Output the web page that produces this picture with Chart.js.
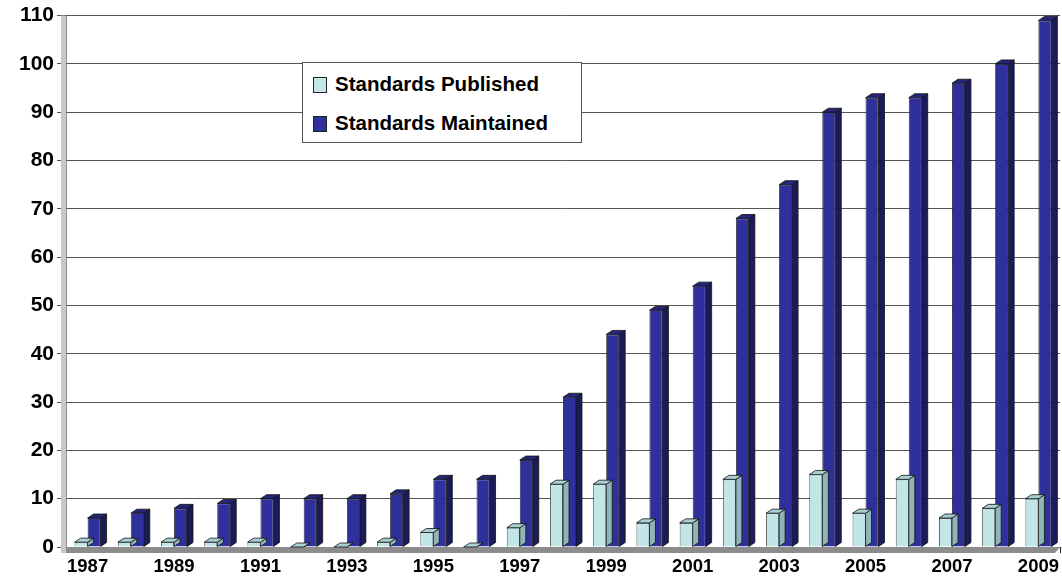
<!DOCTYPE html>
<html>
<head>
<meta charset="utf-8">
<script src="https://cdn.jsdelivr.net/npm/chart.js@4"></script>
<style>
    body { margin: 0; background: #fff; }
    #wrap { position: relative; width: 1062px; height: 583px; }
    #legend {
        position: absolute; left: 302px; top: 62px; width: 280px; height: 81px;
        border: 1px solid #555; background: #fff; box-sizing: border-box;
        font-family: "Liberation Sans", Arial, sans-serif; font-weight: bold; font-size: 20.5px;
        padding: 9px 0 0 10px;
    }
    .item { height: 39px; display: flex; align-items: flex-start; }
    .box { width: 12px; height: 14px; border: 1px solid #222; margin: 5px 8px 0 0; }
</style>
</head>
<body>
<div id="wrap">
    <canvas id="chart"></canvas>
    <div id="legend"></div>
</div>
<script>
const years = ['1987', '1988', '1989', '1990', '1991', '1992', '1993', '1994', '1995', '1996', '1997', '1998',
    '1999', '2000', '2001', '2002', '2003', '2004', '2005', '2006', '2007', '2008', '2009'];
const published = [1, 1, 1, 1, 1, 0, 0, 1, 3, 0, 4, 13, 13, 5, 5, 14, 7, 15, 7, 14, 6, 8, 10];
const maintained = [6, 7, 8, 9, 10, 10, 10, 11, 14, 14, 18, 31, 44, 49, 54, 68, 75, 90, 93, 93, 96, 100, 109];
const seriesNames = ['Standards Published', 'Standards Maintained'];
const yTicks = [0, 10, 20, 30, 40, 50, 60, 70, 80, 90, 100, 110];

const colors = ['#c2e6e8', '#30309c'];
const sideColors = ['#8fb5b8', '#1b1b5a'];
const topColors = ['#a9d0d3', '#25257a'];

// petit effet 3D sur les barres
const depthPlugin = {
    id: 'depth',
    beforeDatasetsDraw(chart) {
        const { ctx, chartArea } = chart;
        ctx.save();
        ctx.fillStyle = '#8c8c8c';
        ctx.beginPath();
        ctx.moveTo(chartArea.left, chartArea.bottom);
        ctx.lineTo(chartArea.right, chartArea.bottom);
        ctx.lineTo(chartArea.right - 5, chartArea.bottom + 6);
        ctx.lineTo(chartArea.left - 5, chartArea.bottom + 6);
        ctx.closePath();
        ctx.fill();
        ctx.fillStyle = '#c8c8c8';
        ctx.fillRect(chartArea.left - 5, chartArea.top, 5, chartArea.bottom - chartArea.top + 6);
        ctx.restore();
    },
    afterDatasetsDraw(chart) {
        const { ctx } = chart;
        const d = 6;
        const r = 4;
        ctx.save();
        ctx.lineWidth = 0.8;
        ctx.strokeStyle = '#111';
        chart.data.datasets.forEach((ds, i) => {
            chart.getDatasetMeta(i).data.forEach((bar) => {
                const half = bar.width / 2;
                const right = bar.x + half;
                const left = bar.x - half;
                ctx.fillStyle = sideColors[i];
                ctx.beginPath();
                ctx.moveTo(right, bar.y);
                ctx.lineTo(right + d, bar.y - r);
                ctx.lineTo(right + d, bar.base - r);
                ctx.lineTo(right, bar.base);
                ctx.closePath();
                ctx.fill();
                ctx.stroke();
                ctx.fillStyle = topColors[i];
                ctx.beginPath();
                ctx.moveTo(left, bar.y);
                ctx.lineTo(left + d, bar.y - r);
                ctx.lineTo(right + d, bar.y - r);
                ctx.lineTo(right, bar.y);
                ctx.closePath();
                ctx.fill();
                ctx.stroke();
            });
        });
        ctx.restore();
    },
};

const legend = document.getElementById('legend');
seriesNames.forEach((name, i) => {
    legend.insertAdjacentHTML('beforeend',
        `<div class="item"><span class="box" style="background:${colors[i]}"></span>${name}</div>`);
});

const font = { family: '"Liberation Sans", Arial, sans-serif', weight: 'bold' };

new Chart(document.getElementById('chart'), {
    type: 'bar',
    data: {
        labels: years,
        datasets: [
            {
                label: seriesNames[0],
                data: published,
                backgroundColor: colors[0],
                borderColor: '#222',
                borderWidth: 0.8,
                barPercentage: 1,
                categoryPercentage: 0.6,
            },
            {
                label: seriesNames[1],
                data: maintained,
                backgroundColor: colors[1],
                borderColor: '#111',
                borderWidth: 0.8,
                barPercentage: 1,
                categoryPercentage: 0.6,
            },
        ],
    },
    options: {
        responsive: true,
        maintainAspectRatio: false,
        animation: false,
        layout: { padding: { top: 12, right: 0, left: 0, bottom: 0 } },
        plugins: { legend: { display: false }, tooltip: { enabled: false } },
        scales: {
            x: {
                grid: { display: true, drawOnChartArea: false, offset: true, tickLength: 6, color: '#222' },
                border: { display: false },
                ticks: {
                    autoSkip: false,
                    maxRotation: 0,
                    color: '#000',
                    padding: 3,
                    font: { ...font, size: 18.5 },
                    callback(value, index) {
                        return index % 2 === 0 ? years[index] : '';
                    },
                },
                afterFit(scale) {
                    scale.height = 36;
                },
            },
            y: {
                min: 0,
                max: 110,
                afterBuildTicks(scale) {
                    scale.ticks = yTicks.map((v) => ({ value: v }));
                },
                grid: { color: '#555', lineWidth: 1, tickLength: 9 },
                border: { color: '#222', width: 1.5 },
                ticks: { color: '#000', padding: 3, font: { ...font, size: 21 } },
                afterFit(scale) {
                    scale.width = 66;
                },
            },
        },
    },
    plugins: [depthPlugin],
});
</script>
</body>
</html>
